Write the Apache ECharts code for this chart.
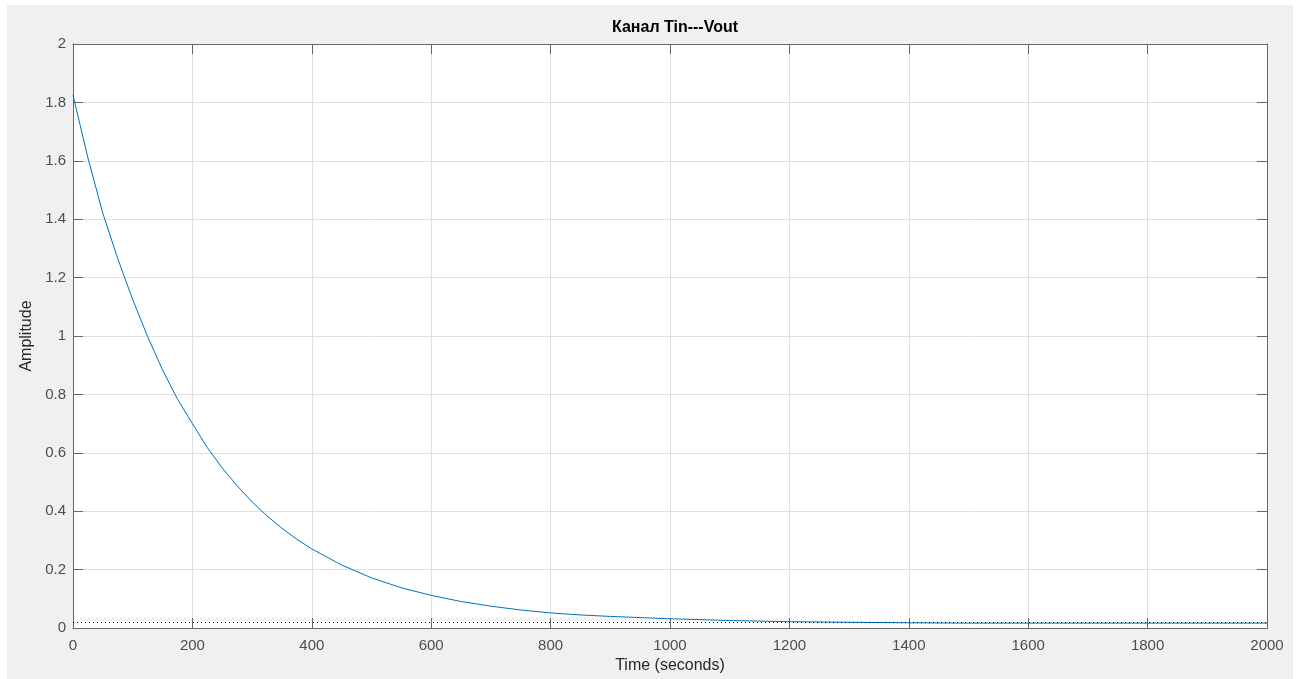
<!DOCTYPE html>
<html>
<head>
<meta charset="utf-8">
<script src="https://cdn.jsdelivr.net/npm/echarts@6/dist/echarts.min.js"></script>
<style>
  html, body { margin: 0; padding: 0; background: #ffffff; }
  #panel { position: absolute; left: 7px; top: 5px; width: 1286px; height: 674px; background: #f0f0f0; }
  #chart { position: absolute; left: 0; top: 0; width: 1299px; height: 679px; }
</style>
</head>
<body>
<div id="panel"></div>
<div id="chart"></div>
<script>
// Step response of channel Tin -> Vout
const timeSec = [0, 25, 50, 75, 100, 125, 150, 175, 200, 225, 250, 275, 300, 325, 350, 375, 400,
                 450, 500, 550, 600, 650, 700, 750, 800, 850, 900, 950, 1000, 1100, 1200, 1300,
                 1400, 1500, 1600, 1700, 1800, 1900, 2000];
const amplitude = [1.825, 1.61, 1.42, 1.265, 1.125, 0.998, 0.884, 0.784, 0.70, 0.618, 0.548, 0.487,
                   0.432, 0.384, 0.342, 0.304, 0.271, 0.216, 0.172, 0.138, 0.112, 0.091, 0.075,
                   0.062, 0.052, 0.045, 0.040, 0.036, 0.032, 0.026, 0.022, 0.020, 0.018, 0.017,
                   0.017, 0.017, 0.017, 0.017, 0.017];
const steadyState = 0.016;
const xTicks = [0, 200, 400, 600, 800, 1000, 1200, 1400, 1600, 1800, 2000];
const yTicks = [0, 0.2, 0.4, 0.6, 0.8, 1, 1.2, 1.4, 1.6, 1.8, 2];

const chart = echarts.init(document.getElementById('chart'), null, { renderer: 'canvas' });

const axisColor = '#666666';
const gridColor = '#e0e0e0';
const labelColor = '#4d4d4d';
const font = '"Liberation Sans", Arial, Helvetica, sans-serif';

const points = timeSec.map((t, i) => [t, amplitude[i]]);

// top and right edges of the axes box: ticks only, no labels
const frameAxis = (type, pos) => ({
  type: 'value',
  position: pos,
  min: type === 'x' ? xTicks[0] : yTicks[0],
  max: type === 'x' ? xTicks[xTicks.length - 1] : yTicks[yTicks.length - 1],
  interval: type === 'x' ? xTicks[1] - xTicks[0] : yTicks[1] - yTicks[0],
  axisLine: { show: true, onZero: false, lineStyle: { color: axisColor, width: 1 } },
  axisTick: { show: true, inside: true, length: 10, lineStyle: { color: axisColor, width: 1 } },
  axisLabel: { show: false },
  splitLine: { show: false }
});

chart.setOption({
  animation: false,
  backgroundColor: 'transparent',
  title: {
    text: 'Канал Tin---Vout',
    left: 670,
    textAlign: 'center',
    top: 15,
    textStyle: { fontFamily: font, fontSize: 16, fontWeight: 'bold', color: '#000000' }
  },
  grid: {
    left: 73, top: 44, right: 32, bottom: 50,
    show: true, backgroundColor: '#ffffff', borderWidth: 0
  },
  xAxis: [
    {
      type: 'value',
      position: 'bottom',
      min: xTicks[0], max: xTicks[xTicks.length - 1], interval: xTicks[1] - xTicks[0],
      name: 'Time (seconds)',
      nameLocation: 'middle',
      nameGap: 29,
      nameTextStyle: { fontFamily: font, fontSize: 16, color: '#262626' },
      axisLine: { show: true, onZero: false, lineStyle: { color: axisColor, width: 1 } },
      axisTick: { show: true, inside: true, length: 10, lineStyle: { color: axisColor, width: 1 } },
      axisLabel: { margin: 10, fontFamily: font, fontSize: 15, color: labelColor,
                   formatter: v => String(v) },
      splitLine: { show: true, lineStyle: { color: gridColor, width: 1 } }
    },
    frameAxis('x', 'top')
  ],
  yAxis: [
    {
      type: 'value',
      position: 'left',
      min: yTicks[0], max: yTicks[yTicks.length - 1], interval: yTicks[1] - yTicks[0],
      name: 'Amplitude',
      nameLocation: 'middle',
      nameGap: 34,
      nameTextStyle: { fontFamily: font, fontSize: 16, color: '#262626' },
      axisLine: { show: true, onZero: false, lineStyle: { color: axisColor, width: 1 } },
      axisTick: { show: true, inside: true, length: 10, lineStyle: { color: axisColor, width: 1 } },
      axisLabel: { margin: 7, fontFamily: font, fontSize: 15, color: labelColor,
                   formatter: v => String(Math.round(v * 10) / 10) },
      splitLine: { show: true, lineStyle: { color: gridColor, width: 1 } }
    },
    frameAxis('y', 'right')
  ],
  series: [
    {
      type: 'line',
      xAxisIndex: 0,
      yAxisIndex: 0,
      data: points,
      showSymbol: false,
      smooth: false,
      lineStyle: { color: '#0072bd', width: 1 },
      markLine: {
        silent: true,
        symbol: ['none', 'none'],
        label: { show: false },
        lineStyle: { color: '#000000', width: 1, type: [1, 3] },
        data: [{ yAxis: steadyState }]
      },
      z: 3
    }
  ]
});
</script>
</body>
</html>
